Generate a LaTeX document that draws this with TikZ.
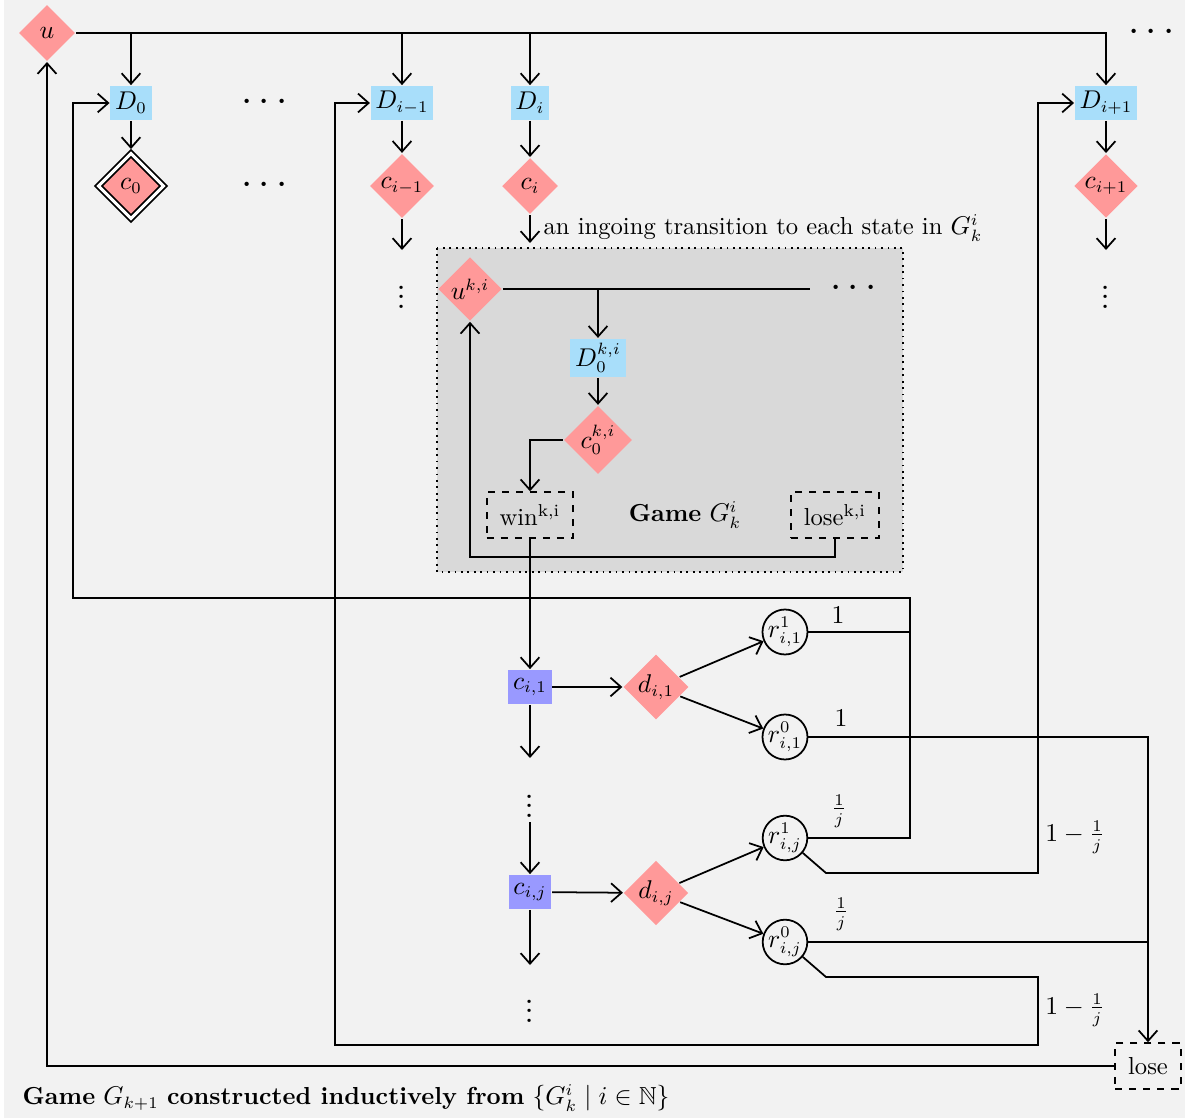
\documentclass[tikz,border=0pt]{standalone}
\usepackage{amsmath}
\usepackage{amssymb}
\usetikzlibrary{shapes.geometric,arrows.meta}

\definecolor{bgc}{RGB}{242,242,242}
\definecolor{gamegray}{RGB}{217,217,217}
\definecolor{randred}{RGB}{255,153,153}
\definecolor{dblue}{RGB}{168,222,250}
\definecolor{cviolet}{RGB}{153,153,255}

\tikzset{
  rand/.style={diamond, fill=randred, inner sep=0.5pt, minimum size=24pt},
  goal/.style={rand, draw, double, double distance=1.3pt, minimum size=28pt},
  dstate/.style={rectangle, fill=dblue, inner sep=2pt, minimum height=14.5pt},
  cstate/.style={rectangle, fill=cviolet, inner sep=2pt, minimum height=14.5pt},
  rstate/.style={circle, draw, inner sep=0pt},
  endstate/.style={rectangle, draw, dashed, inner xsep=5.5pt, inner ysep=3.5pt, minimum height=19.5pt},
  dots/.style={inner sep=0pt},
}

\begin{document}
\begin{tikzpicture}[x=0.015cm, y=-0.015cm, line width=0.75pt,
    font=\fontsize{10.5}{13}\selectfont,
    >={Straight Barb[length=4.5pt,width=8pt]}]
  \useasboundingbox (0,0) rectangle (1185,1118);
  \fill[bgc] (4,0) rectangle (1185,1118);
  \draw[dotted, fill=gamegray] (437,248) rectangle (903,572);

  % top row
  \node[rand] (u) at (47,33) {$u$};
  \node[dots] (dotsT) at (1155,33) {\LARGE$\cdots$};
  \node[dstate] (D0) at (131,103) {$D_0$};
  \node[dstate] (Dim1) at (402,103) {$D_{i-1}$};
  \node[dstate] (Di) at (530,103) {$D_i$};
  \node[dstate] (Dip1) at (1106,103) {$D_{i+1}$};
  \node[dots] (dotsD) at (268,103) {\LARGE$\cdots$};
  \node[goal] (c0) at (131,186) {$c_0$};
  \node[dots] (dotsC) at (268,186) {\LARGE$\cdots$};
  \node[rand] (cim1) at (402,186) {$c_{i-1}$};
  \node[rand] (ci) at (530,186) {$c_i$};
  \node[rand] (cip1) at (1106,186) {$c_{i+1}$};
  \coordinate (cim1E) at (402,250);
  \coordinate (ciE) at (530,243);
  \coordinate (cip1E) at (1106,250);
  \node[dots] (vdA) at (402,290) {\LARGE$\vdots$};
  \node[dots] (vdB) at (1106,290) {\LARGE$\vdots$};
  \node[anchor=west] (ingoing) at (535,228) {an ingoing transition to each state in $G^i_k$};

  % game G^i_k
  \node[rand] (uki) at (470,289) {$u^{k,i}$};
  \coordinate (ukiR) at (810,289);
  \node[dots] (dotsK) at (857,289) {\LARGE$\cdots$};
  \node[dstate] (Dki) at (598,358) {$D^{k,i}_0$};
  \node[rand] (cki) at (598,440) {$c^{k,i}_0$};
  \node[endstate] (wink) at (530,515) {win\textsuperscript{k,i}};
  \node (gamek) at (685,515) {\textbf{Game} $G^i_k$};
  \node[endstate] (losek) at (835,515) {lose\textsuperscript{k,i}};
  \coordinate (lk) at (470,557);

  % gadget
  \node[cstate] (ci1) at (530,687) {$c_{i,1}$};
  \node[rand] (di1) at (656,687) {$d_{i,1}$};
  \node[rstate] (r11) at (785,632) {$r^1_{i,1}$};
  \node[rstate] (r01) at (785,737) {$r^0_{i,1}$};
  \coordinate (ci1E) at (530,758);
  \node[dots] (vdC) at (530,799) {\LARGE$\vdots$};
  \coordinate (cijS) at (530,822);
  \node[cstate] (cij) at (530,892) {$c_{i,j}$};
  \node[rand] (dij) at (656,893) {$d_{i,j}$};
  \node[rstate] (r1j) at (785,838) {$r^1_{i,j}$};
  \node[rstate] (r0j) at (785,942) {$r^0_{i,j}$};
  \coordinate (cijE) at (530,965);
  \node[dots] (vdD) at (530,1004) {\LARGE$\vdots$};
  \node[endstate] (lose) at (1148,1066) {lose};

  \coordinate (jA) at (910,598);
  \coordinate (lA) at (73,598);
  \coordinate (kA) at (826,873);
  \coordinate (kB) at (1038,873);
  \coordinate (mA) at (826,977);
  \coordinate (mB) at (1038,977);
  \coordinate (mC) at (1038,1045);
  \coordinate (mD) at (335,1045);

  % probabilities
  \node (p11) at (838,615) {$1$};
  \node (p01) at (841,718) {$1$};
  \node (p1j) at (839,811) {$\frac{1}{j}$};
  \node (p0j) at (841,914) {$\frac{1}{j}$};
  \node (q1j) at (1075,837) {$1-\frac{1}{j}$};
  \node (q0j) at (1075,1010) {$1-\frac{1}{j}$};

  \node[anchor=west] (caption) at (14,1098)
    {\textbf{Game} $G_{k+1}$ \textbf{constructed inductively from} $\{G^i_k \mid i\in\mathbb{N}\}$};

  % transitions
  \draw[->] (u) -| (Dip1);
  \foreach \n in {D0,Dim1,Di} \draw[->] (\n |- u) -- (\n);
  \draw[->, shorten >=1.4pt] (D0) -- (c0);
  \draw[->] (Dim1) -- (cim1);
  \draw[->] (Di) -- (ci);
  \draw[->] (Dip1) -- (cip1);
  \draw[->] (cim1) -- (cim1E);
  \draw[->] (ci) -- (ciE);
  \draw[->] (cip1) -- (cip1E);

  \draw (uki) -- (ukiR);
  \draw[->] (Dki |- uki) -- (Dki);
  \draw[->] (Dki) -- (cki);
  \draw[->] (cki) -| (wink);
  \draw[->] (losek) |- (lk) -- (uki);
  \draw[->] (wink) -- (ci1);

  \draw[->] (ci1) -- (di1);
  \draw[->] (di1) -- (r11);
  \draw[->] (di1) -- (r01);
  \draw[->] (ci1) -- (ci1E);
  \draw[->] (cijS) -- (cij);
  \draw[->] (cij) -- (dij);
  \draw[->] (dij) -- (r1j);
  \draw[->] (dij) -- (r0j);
  \draw[->] (cij) -- (cijE);

  \draw (r11) -- (r11 -| jA);
  \draw[->] (r1j) -| (jA) -- (lA) |- (D0);
  \draw[->] (r01) -| (lose);
  \draw (r0j) -- (r0j -| lose);
  \draw[->] (r1j.-40) -- (kA) -- (kB) |- (Dip1);
  \draw[->] (r0j.-40) -- (mA) -- (mB) -- (mC) -- (mD) |- (Dim1);
  \draw[->] (lose) -| (u);
\end{tikzpicture}
\end{document}
